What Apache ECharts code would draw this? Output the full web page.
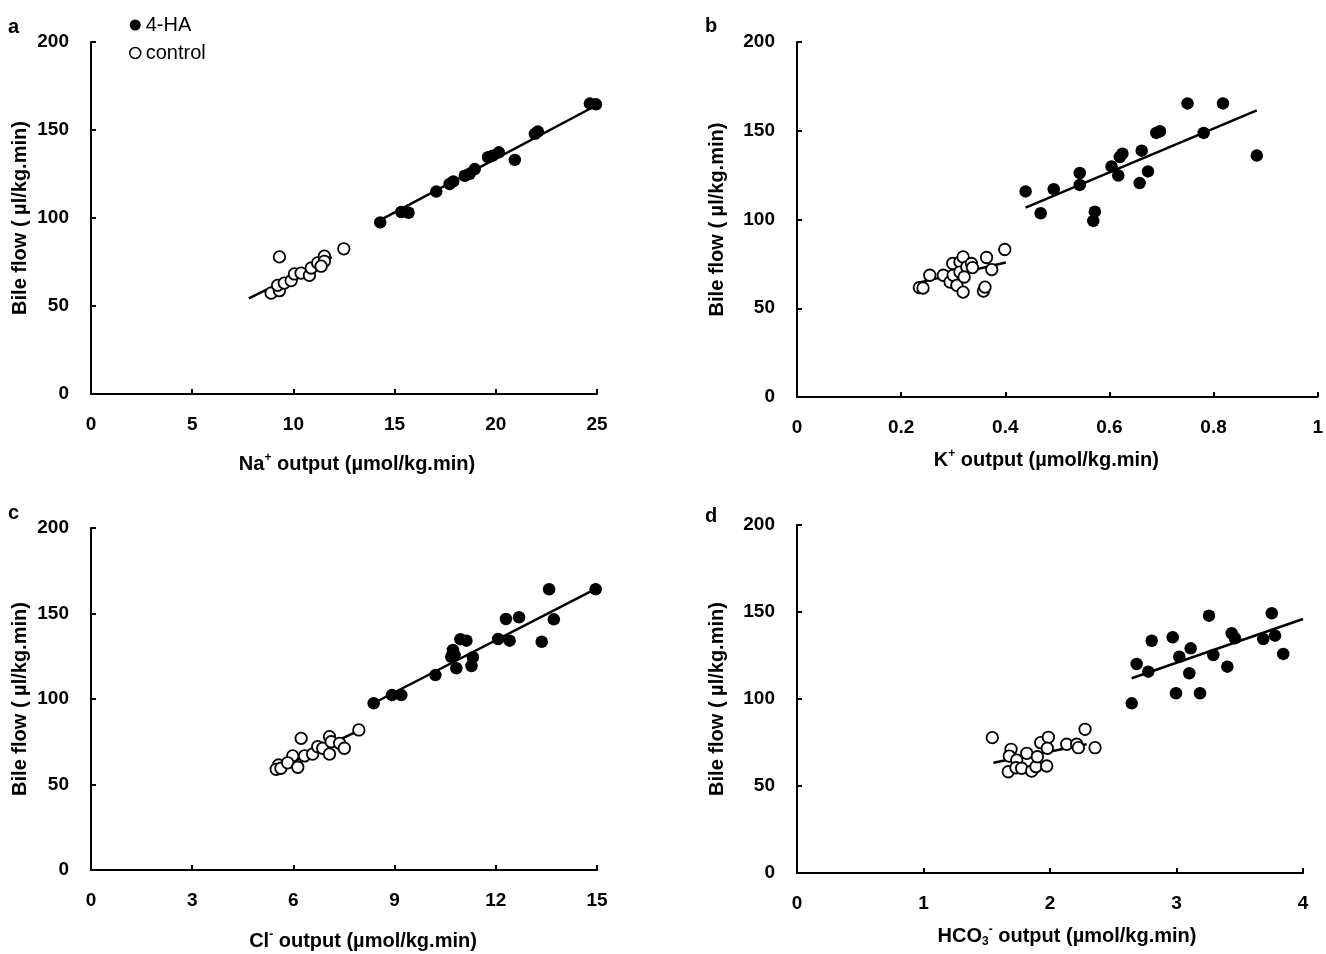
<!DOCTYPE html>
<html>
<head>
<meta charset="utf-8">
<script src="https://cdn.jsdelivr.net/npm/echarts@6/dist/echarts.min.js"></script>
<style>html,body{margin:0;padding:0;background:#fff}#c{width:1326px;height:954px}</style>
</head>
<body>
<div id="c"></div>
<script>
// ---------- DATA ----------
const panelLetters = ['a', 'b', 'c', 'd'];
const yTicks = [0, 50, 100, 150, 200];
const yTitle = 'Bile flow ( \u00b5l/kg.min)';

// Panel a: Na+ output
const naHA = [[14.29,97.5],[15.33,103.4],[15.69,103.0],[17.06,115.0],[17.72,119.3],[17.9,120.8],[18.47,124.0],[18.71,125.1],[18.96,127.8],[19.62,134.5],[19.85,135.4],[20.15,137.3],[20.94,133.0],[21.93,147.8],[22.08,149.1],[24.65,165.0],[24.95,164.6]];
const naCtrl = [[9.31,77.9],[8.90,57.3],[9.31,58.7],[9.22,61.7],[9.55,63.0],[9.89,64.4],[10.05,68.2],[10.38,68.7],[10.79,67.4],[10.88,71.6],[11.20,74.5],[11.53,78.3],[11.53,75.4],[11.37,72.6],[12.49,82.5]];
const naFitHA = [[14.1,97.6],[25.0,164.2]];
const naFitCtrl = [[7.8,54.3],[11.9,77.7]];

// Panel b: K+ output
const kHA = [[0.439,115.8],[0.468,103.5],[0.493,117.1],[0.543,126.2],[0.543,119.5],[0.572,104.4],[0.569,99.2],[0.604,129.9],[0.617,124.8],[0.620,135.2],[0.625,137.1],[0.662,138.8],[0.674,127.1],[0.658,120.5],[0.690,148.8],[0.697,149.7],[0.750,165.4],[0.818,165.4],[0.781,148.8],[0.883,136.0]];
const kCtrl = [[0.235,61.6],[0.242,61.4],[0.255,68.6],[0.281,68.6],[0.294,64.8],[0.300,68.6],[0.299,75.2],[0.313,76.1],[0.319,78.9],[0.313,70.4],[0.307,62.9],[0.319,59.1],[0.326,73.3],[0.335,75.2],[0.337,72.9],[0.321,67.6],[0.364,78.6],[0.374,71.8],[0.358,59.7],[0.361,61.9],[0.399,83.1]];
const kFitHA = [[0.439,106.7],[0.883,161.5]];
const kFitCtrl = [[0.227,64.0],[0.401,75.8]];

// Panel c: Cl- output
const clHA = [[8.38,97.5],[8.92,102.3],[9.20,102.3],[10.21,114.0],[10.73,128.7],[10.78,125.7],[10.68,124.7],[11.13,134.1],[10.95,135.0],[11.32,124.4],[10.83,118.0],[11.28,119.3],[12.07,135.1],[12.41,134.1],[12.30,146.8],[12.69,147.8],[13.36,133.5],[13.58,164.2],[13.72,146.6],[14.96,164.2]];
const clCtrl = [[6.23,77.0],[5.56,61.4],[5.49,58.9],[5.63,59.5],[5.98,66.7],[5.83,62.7],[6.13,60.1],[6.33,66.7],[6.57,67.8],[6.72,72.1],[6.87,71.2],[7.07,78.0],[7.12,75.0],[7.07,67.8],[7.37,74.1],[7.51,71.2],[7.94,81.9]];
const clFitHA = [[8.40,97.8],[14.99,164.7]];
const clFitCtrl = [[5.49,58.5],[7.84,80.7]];

// Panel d: HCO3- output
const hcoHA = [[2.646,97.5],[2.685,120.1],[2.777,115.7],[2.804,133.5],[2.970,135.5],[3.022,124.3],[2.996,103.3],[3.112,129.1],[3.101,114.8],[3.186,103.3],[3.257,147.9],[3.291,125.3],[3.402,118.6],[3.436,137.8],[3.462,134.9],[3.686,134.5],[3.753,149.3],[3.779,136.4],[3.844,125.9]];
const hcoCtrl = [[1.544,77.8],[1.692,71.1],[1.678,67.2],[1.670,58.2],[1.737,64.9],[1.731,60.5],[1.776,60.2],[1.816,68.8],[1.855,58.6],[1.889,61.1],[1.900,66.8],[1.926,74.9],[1.987,78.0],[1.979,71.7],[1.974,61.5],[2.132,74.0],[2.211,74.0],[2.224,72.0],[2.277,82.6],[2.356,72.0]];
const hcoFitHA = [[2.646,111.9],[4.0,146.0]];
const hcoFitCtrl = [[1.552,63.4],[2.290,74.0]];

const xMax = [25, 1, 15, 4];
const xInterval = [5, 0.2, 3, 1];
const xTitles = [
  '{t|Na}{sup|+}{t| output (\u00b5mol/kg.min)}',
  '{t|K}{sup|+}{t| output (\u00b5mol/kg.min)}',
  '{t|Cl}{sup|-}{t| output (\u00b5mol/kg.min)}',
  '{t|HCO}{sub|3}{sup|-}{t| output (\u00b5mol/kg.min)}'
];
const haSets = [naHA, kHA, clHA, hcoHA];
const ctrlSets = [naCtrl, kCtrl, clCtrl, hcoCtrl];
const fitHASets = [naFitHA, kFitHA, clFitHA, hcoFitHA];
const fitCtrlSets = [naFitCtrl, kFitCtrl, clFitCtrl, hcoFitCtrl];

// ---------- LAYOUT ----------
const FONT = '"Liberation Sans", Arial, sans-serif';
const grids = [
  {left: 91, top: 42, width: 506, height: 352},
  {left: 797, top: 42, width: 522, height: 355},
  {left: 91, top: 528, width: 506, height: 342},
  {left: 797, top: 525, width: 506, height: 348}
];
const yNameGap = [61, 70, 61, 70];
const xNameGap = [58, 51, 59, 51];
const xNameShift = [13, -11, 19, 17];
const letterPos = [[8, 17], [705, 16], [8, 503], [705, 506]];

const richX = {
  t: {fontSize: 20, fontWeight: 'bold', fontFamily: FONT, color: '#000', lineHeight: 24},
  sup: {fontSize: 12, fontWeight: 'bold', fontFamily: FONT, color: '#000', verticalAlign: 'top', lineHeight: 14},
  sub: {fontSize: 12, fontWeight: 'bold', fontFamily: FONT, color: '#000', verticalAlign: 'bottom', lineHeight: 12}
};

const axisCommon = {
  axisLine: {show: true, onZero: false, lineStyle: {color: '#000', width: 2}},
  axisTick: {show: true, inside: true, length: 5, lineStyle: {color: '#000', width: 2}},
  splitLine: {show: false},
  axisLabel: {color: '#000', fontSize: 19, fontWeight: 'bold', fontFamily: FONT}
};

const xAxes = [], yAxes = [], series = [], graphics = [];
for (let i = 0; i < 4; i++) {
  const s = xNameShift[i];
  xAxes.push(Object.assign({}, axisCommon, {
    gridIndex: i, type: 'value', min: 0, max: xMax[i], interval: xInterval[i],
    name: xTitles[i], nameLocation: 'middle', nameGap: xNameGap[i],
    nameTextStyle: {rich: richX, padding: s > 0 ? [0, 0, 0, 2 * s] : [0, -2 * s, 0, 0]},
    axisLabel: Object.assign({}, axisCommon.axisLabel, {margin: 21})
  }));
  yAxes.push(Object.assign({}, axisCommon, {
    gridIndex: i, type: 'value', min: yTicks[0], max: yTicks[yTicks.length - 1], interval: 50,
    name: yTitle, nameLocation: 'middle', nameGap: yNameGap[i],
    nameTextStyle: {fontSize: 20, fontWeight: 'bold', fontFamily: FONT, color: '#000'},
    axisLabel: Object.assign({}, axisCommon.axisLabel, {margin: 22})
  }));
  const lineStyle = {color: '#000', width: 2.5};
  series.push({type: 'line', xAxisIndex: i, yAxisIndex: i, data: fitHASets[i], showSymbol: false, symbol: 'none', lineStyle, z: 1, silent: true});
  series.push({type: 'line', xAxisIndex: i, yAxisIndex: i, data: fitCtrlSets[i], showSymbol: false, symbol: 'none', lineStyle, z: 1, silent: true});
  series.push({type: 'scatter', name: '4-HA', xAxisIndex: i, yAxisIndex: i, data: haSets[i], symbol: 'circle', symbolSize: 12.5,
    itemStyle: {color: '#000', opacity: 1}, z: 3});
  series.push({type: 'scatter', name: 'control', xAxisIndex: i, yAxisIndex: i, data: ctrlSets[i], symbol: 'circle', symbolSize: 11.5,
    itemStyle: {color: '#fff', borderColor: '#000', borderWidth: 1.8, opacity: 1}, z: 3});
  graphics.push({type: 'text', left: letterPos[i][0], top: letterPos[i][1],
    style: {text: panelLetters[i], fontSize: 20, fontWeight: 'bold', fontFamily: FONT, fill: '#000'}});
}

const chart = echarts.init(document.getElementById('c'), null, {renderer: 'canvas'});
chart.setOption({
  animation: false,
  backgroundColor: '#fff',
  grid: grids,
  xAxis: xAxes,
  yAxis: yAxes,
  series: series,
  graphic: graphics,
  legend: {
    orient: 'vertical', left: 124, top: 10, itemGap: 8, itemWidth: 11, itemHeight: 11,
    textStyle: {fontSize: 20, fontFamily: FONT, color: '#000'},
    data: [
      {name: '4-HA', icon: 'circle', itemStyle: {color: '#000'}},
      {name: 'control', icon: 'circle', itemStyle: {color: '#fff', borderColor: '#000', borderWidth: 1.5}}
    ],
    selectedMode: false
  }
});
</script>
</body>
</html>
